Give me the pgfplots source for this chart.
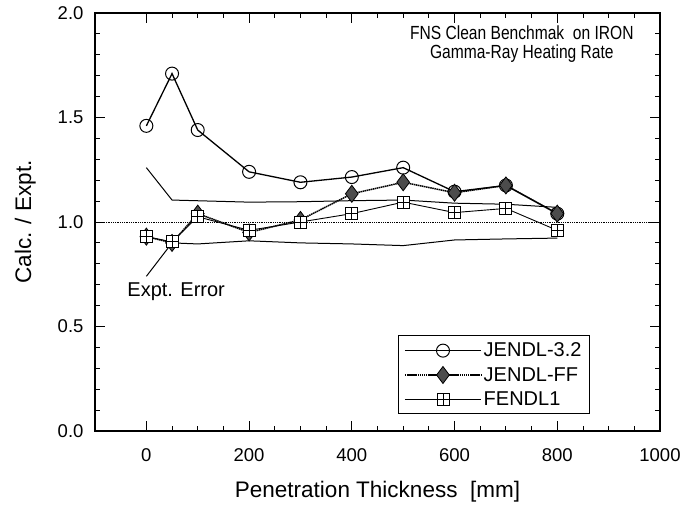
\documentclass[border=0pt]{standalone}
\usepackage{pgfplots}
\pgfplotsset{compat=1.18}
\usepackage{fontspec}
\setmainfont{Liberation Sans}
\newfontfamily\narrowfont[FakeStretch=0.82]{Liberation Sans}

% square with a cross in it, as in the original's FENDL1 marks
\pgfdeclareplotmark{boxplus}{%
  \pgfpathrectangle{\pgfpoint{-\pgfplotmarksize}{-\pgfplotmarksize}}{\pgfpoint{2\pgfplotmarksize}{2\pgfplotmarksize}}%
  \pgfusepathqfillstroke
  \pgfpathmoveto{\pgfpoint{-\pgfplotmarksize}{0pt}}\pgfpathlineto{\pgfpoint{\pgfplotmarksize}{0pt}}%
  \pgfpathmoveto{\pgfpoint{0pt}{-\pgfplotmarksize}}\pgfpathlineto{\pgfpoint{0pt}{\pgfplotmarksize}}%
  \pgfusepathqstroke
}

\begin{document}
\begin{tikzpicture}
  \begin{axis}[
    scale only axis,
    width=565pt, height=418pt,
    xmin=-100, xmax=1000,
    ymin=0, ymax=2.0,
    xtick={0,200,400,600,800,1000},
    minor x tick num=3,
    ytick={0,0.5,1.0,1.5,2.0},
    minor y tick num=4,
    tick align=inside,
    tick pos=both,
    major tick length=10pt,
    minor tick length=5pt,
    axis line style={line width=1.4pt},
    every tick/.style={black, line width=0.9pt},
    xticklabel style={/pgf/number format/1000 sep={}, yshift=-14pt},
    yticklabel style={/pgf/number format/fixed, /pgf/number format/fixed zerofill,
      /pgf/number format/precision=1, xshift=-8pt},
    /pgf/number format/assume math mode=true,
    ticklabel style={font=\fontsize{18.5}{22}\selectfont},
    label style={font=\fontsize{22.5}{26}\selectfont},
    xlabel={Penetration Thickness~~[mm]},
    ylabel={Calc. / Expt.},
    xlabel style={yshift=-13pt},
    ylabel style={yshift=15pt},
    clip=false,
    legend style={at={(0.536,0.04)}, anchor=south west,
      font=\fontsize{20}{24}\selectfont, draw=black, line width=0.8pt,
      row sep=5pt, inner xsep=6pt, inner ysep=5pt},
    legend cell align=left,
    legend image code/.code={%
      \draw[mark repeat=2, mark phase=2] plot coordinates {(0pt,0pt) (38pt,0pt) (76pt,0pt)};},
  ]
    % reference line at 1.0
    \addplot[black, line width=0.8pt, densely dotted, forget plot] coordinates {(-100,1.0) (1000,1.0)};

    % experimental error band
    \addplot[black, line width=1pt, forget plot] coordinates {
      (0,1.26) (50,1.105) (200,1.095) (300,1.097) (400,1.102) (500,1.105) (600,1.09) (700,1.085) (800,1.07)};
    \addplot[black, line width=1pt, forget plot] coordinates {
      (0,0.74) (50,0.90) (100,0.895) (200,0.91) (300,0.90) (400,0.895) (500,0.887) (600,0.914) (700,0.919) (800,0.923)};

    \addplot[black, line width=1.3pt, mark=o, mark size=6.5pt,
      mark options={fill=white, solid, line width=1pt}] coordinates {
      (0,1.46) (50,1.71) (100,1.44) (200,1.24) (300,1.19) (400,1.215) (500,1.26) (600,1.145) (700,1.175) (800,1.04)};
    \addlegendentry{JENDL-3.2}

    \addplot[black, line width=1.5pt, dash pattern=on 1.5pt off 0.6pt, mark=diamond*, mark size=8.5pt,
      mark options={fill=black!70, draw=black, solid, line width=0.8pt}] coordinates {
      (0,0.93) (50,0.90) (100,1.04) (200,0.95) (300,1.01) (400,1.135) (500,1.19) (600,1.14) (700,1.175) (800,1.04)};
    \addlegendentry{JENDL-FF}

    \addplot[black, line width=0.9pt, mark=boxplus, mark size=6pt,
      mark options={fill=white, solid, line width=0.9pt}] coordinates {
      (0,0.93) (50,0.905) (100,1.025) (200,0.96) (300,1.00) (400,1.04) (500,1.095) (600,1.045) (700,1.065) (800,0.96)};
    \addlegendentry{FENDL1}

    \node[font=\narrowfont\fontsize{19}{19}\selectfont, align=center, anchor=north]
      at (axis cs:731,1.955) {FNS Clean Benchmak~~on IRON\\Gamma-Ray Heating Rate};
    \node[font=\fontsize{20}{24}\selectfont, anchor=center] at (axis cs:58,0.665) {Expt. Error};
  \end{axis}
  \pgfresetboundingbox
  \path[use as bounding box] (current axis.south west) ++(-95pt,-74pt) rectangle ++(686pt,505pt);
\end{tikzpicture}
\end{document}
